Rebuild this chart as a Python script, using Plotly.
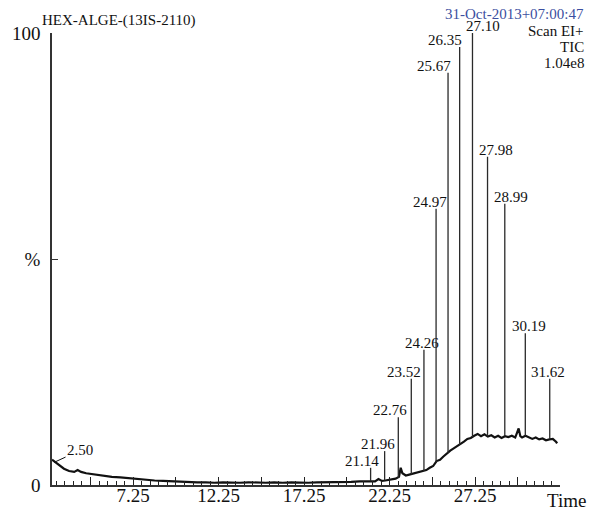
import plotly.graph_objects as go

# ---- data ----
base_time = [2.5, 2.7, 2.9, 3.2, 3.5, 3.8, 4.0, 4.2, 4.5, 5.0, 5.5, 6.0, 6.5, 7.0, 7.5, 8.0,
             8.5, 9.0, 9.5, 10.0, 10.5, 11.0, 11.5, 12.0, 12.5, 13.0, 13.5, 14.0, 14.5, 15.0,
             15.5, 16.0, 16.5, 17.0, 17.5, 18.0, 18.5, 19.0, 19.5, 20.0, 20.5, 21.0,
             21.2, 21.4, 21.6, 21.8, 22.0, 22.2, 22.4, 22.6, 22.8, 22.9, 23.0, 23.2, 23.4,
             23.6, 23.8, 24.0, 24.2, 24.4, 24.6, 24.8, 25.0, 25.2, 25.4, 25.6, 25.8, 26.0,
             26.2, 26.4, 26.6, 26.8, 27.0, 27.2, 27.4, 27.6, 27.8, 28.0, 28.2, 28.4, 28.6,
             28.8, 29.0, 29.2, 29.4, 29.6, 29.8, 29.9, 30.0, 30.2, 30.4, 30.6, 30.8, 31.0,
             31.2, 31.4, 31.6, 31.8, 32.0, 32.05]
base_pct = [5.6, 5.0, 4.3, 3.6, 3.1, 2.9, 3.3, 2.9, 2.6, 2.3, 2.0, 1.8, 1.7, 1.5, 1.3, 1.1,
            1.0, 0.9, 0.8, 0.7, 0.7, 0.6, 0.6, 0.5, 0.6, 0.5, 0.5, 0.6, 0.5, 0.5,
            0.6, 0.5, 0.6, 0.5, 0.5, 0.6, 0.6, 0.6, 0.7, 0.7, 0.8, 0.8,
            0.9, 0.8, 1.3, 0.9, 1.0, 1.1, 1.2, 1.4, 1.8, 3.8, 2.6, 2.1, 2.3,
            2.5, 2.6, 2.9, 3.1, 3.3, 3.8, 4.2, 5.3, 5.6, 6.3, 7.0, 7.6, 8.1,
            8.6, 9.0, 9.6, 10.2, 10.4, 10.9, 11.3, 10.8, 11.2, 10.7, 11.0, 10.5, 10.9,
            10.4, 10.8, 10.6, 10.9, 10.5, 12.5, 10.8, 10.5, 10.9, 10.6, 10.2, 10.5, 10.1,
            10.3, 9.9, 10.1, 10.2, 9.5, 9.2]

peak_time = [21.14, 21.96, 22.76, 23.52, 24.26, 24.97, 25.67, 26.35, 27.10, 27.98, 28.99, 30.19, 31.62]
peak_top = [3.8, 7.5, 15.0, 23.5, 29.9, 61.1, 91.2, 96.9, 100.0, 72.6, 62.2, 33.6, 23.5]
peak_foot = [0.8, 1.0, 1.6, 2.4, 3.1, 5.0, 7.1, 8.9, 10.6, 10.8, 10.8, 10.9, 10.1]

x_tick_first = 2.25      # labelled ticks: 7.25, 12.25, 17.25, 22.25, 27.25
x_tick_step = 2.5
x_minor_first = 0.25
x_minor_step = 0.5
y_tick_vals = [0, 50, 100]
y_tick_text = ["0", "%", "100"]

# label horizontal offsets (px), a style setting
label_shift = [-9, -7, -8, -7, -2, -6, -14, -15, 11, 8, 6, 4, -2]

FONT = "Liberation Serif"
X_RANGE = [2.5, 32.22]

fig = go.Figure()
fig.add_trace(go.Scatter(x=base_time, y=base_pct, mode="lines",
                         line=dict(color="#111111", width=2.2), hoverinfo="skip"))

px, py = [], []
for t, f, h in zip(peak_time, peak_foot, peak_top):
    px += [t, t, None]
    py += [f, h, None]
fig.add_trace(go.Scatter(x=px, y=py, mode="lines",
                         line=dict(color="#2a2a2a", width=1.3), hoverinfo="skip"))
# invisible carrier so the labelled overlay axis is drawn
fig.add_trace(go.Scatter(x=[base_time[0]], y=[base_pct[0]], xaxis="x2", mode="markers",
                         marker=dict(opacity=0), hoverinfo="skip"))

annotations = []
for t, h, s in zip(peak_time, peak_top, label_shift):
    annotations.append(dict(x=t, y=h, xref="x", yref="y", text=f"{t:.2f}", showarrow=False,
                            xanchor="center", yanchor="bottom", xshift=s, yshift=-3,
                            font=dict(family=FONT, size=15, color="#111111")))
annotations.append(dict(x=2.62, y=5.0, xref="x", yref="y", text="2.50", showarrow=True,
                        arrowhead=0, arrowwidth=1, arrowcolor="#111111", ax=26, ay=-12,
                        font=dict(family=FONT, size=15, color="#111111")))

W, H = 598, 515
L, R, T, B = 52, 38, 33, 30
pw, ph = W - L - R, H - T - B

def paper(xp, yp):
    return (xp - L) / pw, (H - yp - B) / ph

hx, hy = paper(40, 21)
annotations.append(dict(x=hx, y=hy, xref="paper", yref="paper", text="HEX-ALGE-(13IS-2110)",
                        showarrow=False, xanchor="left", yanchor="middle",
                        font=dict(family=FONT, size=15, color="#111111")))
right_lines = [("31-Oct-2013+07:00:47", 14, "#3b4ea0"), ("Scan EI+", 31, "#111111"),
               ("TIC", 47, "#111111"), ("1.04e8", 63, "#111111")]
for txt, yy, col in right_lines:
    ax_, ay_ = paper(586, yy)
    annotations.append(dict(x=ax_, y=ay_, xref="paper", yref="paper", text=txt,
                            showarrow=False, xanchor="right", yanchor="middle",
                            font=dict(family=FONT, size=15, color=col)))
tx, ty = paper(566, 500)
annotations.append(dict(x=tx, y=ty, xref="paper", yref="paper", text="Time",
                        showarrow=False, xanchor="center", yanchor="middle",
                        font=dict(family=FONT, size=19, color="#111111")))

fig.update_layout(
    width=W, height=H, margin=dict(l=L, r=R, t=T, b=B, autoexpand=False),
    paper_bgcolor="white", plot_bgcolor="white", showlegend=False,
    annotations=annotations,
    xaxis=dict(range=X_RANGE, showgrid=False, zeroline=False, showline=True, automargin=False,
               linecolor="#333333", linewidth=1.5, ticks="inside", ticklen=4, tickwidth=1.1,
               tickcolor="#222222", tickmode="linear", tick0=x_minor_first, dtick=x_minor_step,
               showticklabels=False),
    xaxis2=dict(range=X_RANGE, overlaying="x", anchor="y", side="bottom", showgrid=False,
                zeroline=False, showline=False, automargin=False,
                ticks="inside", ticklen=8, tickwidth=1.2, tickcolor="#222222",
                tickmode="linear", tick0=x_tick_first, dtick=x_tick_step, ticklabelstep=2,
                tickfont=dict(family=FONT, size=19, color="#111111"), ticklabelstandoff=-3),
    yaxis=dict(range=[0, 100], showgrid=False, zeroline=False, showline=True, automargin=False,
               linecolor="#333333", linewidth=1.5, ticks="inside", ticklen=6, tickwidth=1.2,
               tickcolor="#333333", tickmode="array", tickvals=y_tick_vals, ticktext=y_tick_text,
               tickfont=dict(family=FONT, size=19, color="#111111"), ticklabelstandoff=6),
)

fig.write_html("out.html", config={"displayModeBar": False},
               post_script="document.body.style.margin='0';document.body.style.padding='0';")
